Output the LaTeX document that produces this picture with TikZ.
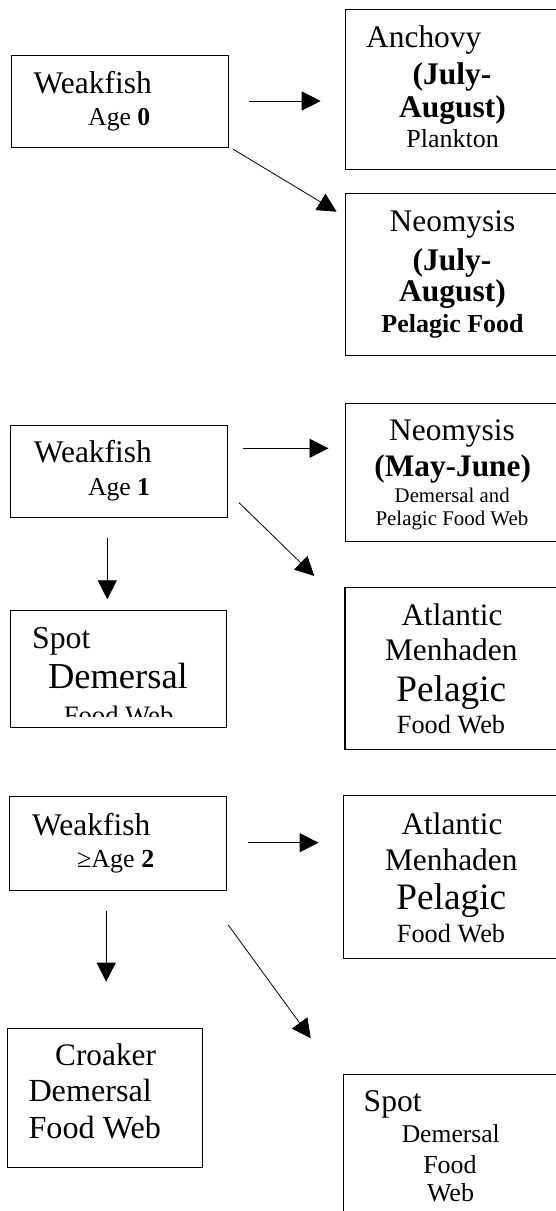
\documentclass[tikz,border=0pt]{standalone}
\usepackage{fontspec}
\setmainfont{Liberation Serif}
\usetikzlibrary{arrows.meta}
\newcommand{\fsz}[1]{\fontsize{#1}{#1}\selectfont}

\begin{document}
\begin{tikzpicture}[x=1pt,y=-1pt,
  box/.style={draw,line width=1.1pt,inner sep=0pt,anchor=north west},
  lbl/.style={inner sep=0pt,anchor=base west},
  ctr/.style={inner sep=0pt,anchor=base},
  arr/.style={line width=0.8pt,-{Triangle[length=19pt,width=19pt]}}]
  \useasboundingbox (0,0) rectangle (555,1211);

  % Age 0
  \node[box,minimum width=217pt,minimum height=92pt] (wf0) at (10.7,55) {};
  \node[lbl] (wf0a) at (33.5,93.3) {\fsz{31.5}Weakfish};
  \node[lbl] (wf0b) at (88,125) {\fsz{25.7}Age \textbf{0}};

  \node[box,minimum width=215pt,minimum height=160.3pt] (anch) at (345,9) {};
  \node[lbl] (ancha) at (366,47.7) {\fsz{31.4}Anchovy};
  \node[ctr] (anchb) at (452,84) {\fsz{31.5}\textbf{(July-}};
  \node[ctr] (anchc) at (452.5,117) {\fsz{31.5}\textbf{August)}};
  \node[ctr] (anchd) at (452.7,147) {\fsz{26}Plankton};

  \node[box,minimum width=215pt,minimum height=162.3pt] (neo0) at (345,192.7) {};
  \node[ctr] (neo0a) at (452.5,231.7) {\fsz{31.4}Neomysis};
  \node[ctr] (neo0b) at (452,270) {\fsz{31.5}\textbf{(July-}};
  \node[ctr] (neo0c) at (452.5,301.7) {\fsz{31.5}\textbf{August)}};
  \node[ctr] (neo0d) at (452.5,332.7) {\fsz{26}\textbf{Pelagic Food}};

  % Age 1
  \node[box,minimum width=216.6pt,minimum height=92.3pt] (wf1) at (9.9,425) {};
  \node[lbl] (wf1a) at (33.6,462.7) {\fsz{31.5}Weakfish};
  \node[lbl] (wf1b) at (87.8,495) {\fsz{25.7}Age \textbf{1}};

  \node[box,minimum width=215pt,minimum height=138pt] (neo1) at (345,402.7) {};
  \node[ctr] (neo1a) at (452,440) {\fsz{31.4}Neomysis};
  \node[ctr] (neo1b) at (452.7,476.7) {\fsz{31.3}\textbf{(May-June)}};
  \node[ctr] (neo1c) at (452.2,502.7) {\fsz{20.8}Demersal and};
  \node[ctr] (neo1d) at (451.9,525) {\fsz{20.9}Pelagic Food Web};

  \node[box,minimum width=216.2pt,minimum height=116.7pt] (spot1) at (9.6,610) {};
  \node[lbl] (spot1a) at (31.9,648.3) {\fsz{31.8}Spot};
  \node[lbl] (spot1b) at (47.8,688.3) {\fsz{36.5}Demersal};
  \begin{scope}
    \clip (0,600) rectangle (555,716.7);
    \node[lbl] (spot1c) at (63.7,724.3) {\fsz{26.6}Food Web};
  \end{scope}

  \node[box,minimum width=215.6pt,minimum height=162.6pt] (menh1) at (344.4,586.7) {};
  \node[ctr] (menh1a) at (452,625) {\fsz{31.3}Atlantic};
  \node[ctr] (menh1b) at (451.3,660) {\fsz{31.4}Menhaden};
  \node[ctr] (menh1c) at (451.3,701.7) {\fsz{37.3}Pelagic};
  \node[ctr] (menh1d) at (451,733.3) {\fsz{26.3}Food Web};

  % Age 2 and older
  \node[box,minimum width=216.7pt,minimum height=94pt] (wf2) at (8.8,796) {};
  \node[lbl] (wf2a) at (31.9,835) {\fsz{31.5}Weakfish};
  \node[lbl] (wf2b) at (77,867.3) {\fsz{26}≥Age \textbf{2}};

  \node[box,minimum width=216.7pt,minimum height=163.3pt] (menh2) at (343.3,795) {};
  \node[ctr] (menh2a) at (452,834) {\fsz{31.3}Atlantic};
  \node[ctr] (menh2b) at (451.3,870) {\fsz{31.4}Menhaden};
  \node[ctr] (menh2c) at (451.3,909.3) {\fsz{37.3}Pelagic};
  \node[ctr] (menh2d) at (451,942.7) {\fsz{26.3}Food Web};

  \node[box,minimum width=194.4pt,minimum height=139pt] (croak) at (7.3,1027.5) {};
  \node[lbl] (croaka) at (55,1065) {\fsz{31.3}Croaker};
  \node[lbl] (croakb) at (28.3,1101.7) {\fsz{32.2}Demersal};
  \node[lbl] (croakc) at (28.3,1138.3) {\fsz{32.2}Food Web};

  \node[box,minimum width=217.3pt,minimum height=160pt] (spot2) at (342.7,1073.5) {};
  \node[lbl] (spot2a) at (363.5,1111.7) {\fsz{31.6}Spot};
  \node[ctr] (spot2b) at (450.8,1142.7) {\fsz{25.6}Demersal};
  \node[ctr] (spot2c) at (450,1173.3) {\fsz{26}Food};
  \node[ctr] (spot2d) at (450.5,1201.7) {\fsz{26}Web};

  % Arrow ends
  \coordinate (a0hs) at (249.3,101);   \coordinate (a0he) at (320.7,101);
  \coordinate (a0ds) at (233.3,149.3); \coordinate (a0de) at (336.7,211.7);
  \coordinate (a1hs) at (242.5,448.3); \coordinate (a1he) at (328.5,448.3);
  \coordinate (a1ds) at (239,502.7);   \coordinate (a1de) at (314.3,576);
  \coordinate (a1vs) at (107.3,538.3); \coordinate (a1ve) at (107.3,599.3);
  \coordinate (a2hs) at (247.8,842.7); \coordinate (a2he) at (318.6,842.7);
  \coordinate (a2vs) at (106.2,911);   \coordinate (a2ve) at (106.2,981.7);
  \coordinate (a2ds) at (228.3,925);   \coordinate (a2de) at (310.8,1038.3);

  % Arrows
  \draw[arr] (a0hs) -- (a0he);
  \draw[arr] (a0ds) -- (a0de);
  \draw[arr] (a1hs) -- (a1he);
  \draw[arr] (a1ds) -- (a1de);
  \draw[arr] (a1vs) -- (a1ve);
  \draw[arr] (a2hs) -- (a2he);
  \draw[arr] (a2vs) -- (a2ve);
  \draw[arr] (a2ds) -- (a2de);
\end{tikzpicture}
\end{document}
